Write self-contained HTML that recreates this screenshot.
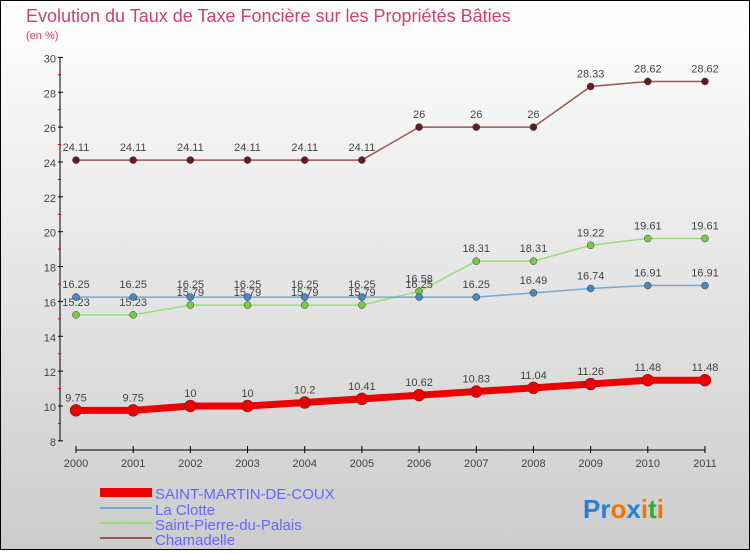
<!DOCTYPE html>
<html><head><meta charset="utf-8"><style>
body{margin:0;}
#c{width:750px;height:550px;position:relative;}
</style></head><body>
<div id="c">
<svg id="s" width="750" height="550" xmlns="http://www.w3.org/2000/svg" font-family="Liberation Sans, sans-serif">
<defs><linearGradient id="bg" x1="0" y1="0" x2="0" y2="1"><stop offset="0" stop-color="#ffffff"/><stop offset="1" stop-color="#cccccc"/></linearGradient></defs>
<rect x="0.5" y="0.5" width="749" height="549" fill="url(#bg)" stroke="#000"/>
<text x="26" y="22" font-size="18" fill="#d04070">Evolution du Taux de Taxe Foncière sur les Propriétés Bâties</text>
<text x="26" y="39" font-size="11" fill="#d04070">(en %)</text>
<g id="axes"></g><g id="series"></g>
<g>
<rect x="100" y="488" width="52" height="9" fill="#ee0000"/>
<text x="155" y="499" font-size="15" fill="#6666ff">SAINT-MARTIN-DE-COUX</text>
<rect x="100" y="507" width="52" height="2" fill="#7aa8d0"/>
<text x="155" y="515" font-size="15" fill="#6666ff">La Clotte</text>
<rect x="100" y="522" width="52" height="2" fill="#99dd77"/>
<text x="155" y="530" font-size="15" fill="#6666ff">Saint-Pierre-du-Palais</text>
<rect x="100" y="537" width="52" height="2" fill="#995555"/>
<text x="155" y="545" font-size="15" fill="#6666ff">Chamadelle</text>
</g>
<text x="583" y="518" font-size="26" font-weight="bold"><tspan fill="#2a7fcf">Pr</tspan><tspan fill="#ee7700">o</tspan><tspan fill="#2a7fcf">x</tspan><tspan fill="#ee7700">i</tspan><tspan fill="#33aa33">t</tspan><tspan fill="#ee7700">i</tspan></text>
</svg></div>
<script>
const years=["2000","2001","2002","2003","2004","2005","2006","2007","2008","2009","2010","2011"];
const yTicks=[8,10,12,14,16,18,20,22,24,26,28,30];
const stMartin=[9.75,9.75,10,10,10.2,10.41,10.62,10.83,11.04,11.26,11.48,11.48];
const laClotte=[16.25,16.25,16.25,16.25,16.25,16.25,16.25,16.25,16.49,16.74,16.91,16.91];
const stPierre=[15.23,15.23,15.79,15.79,15.79,15.79,16.58,18.31,18.31,19.22,19.61,19.61];
const chamadelle=[24.11,24.11,24.11,24.11,24.11,24.11,26,26,26,28.33,28.62,28.62];
const NS="http://www.w3.org/2000/svg";
function xS(i){return 76+i*57.18;}
function yS(v){return 406-(v-10)*17.43;}
function mk(t,a,p){const e=document.createElementNS(NS,t);for(const k in a)e.setAttribute(k,a[k]);p.appendChild(e);return e;}
const ax=document.getElementById('axes');
const yl=mk('line',{x1:60,y1:yS(30),x2:60,y2:yS(8),stroke:'#000'},ax);


const xl=mk('line',{x1:xS(0),y1:450,x2:xS(11),y2:450,stroke:'#000'},ax);


yTicks.forEach(v=>{
 mk('line',{x1:58,y1:yS(v),x2:63,y2:yS(v),stroke:'#000'},ax);
 if(v<30)mk('line',{x1:58,y1:yS(v+1),x2:61,y2:yS(v+1),stroke:'#d00'},ax);
 const t=mk('text',{x:56,y:yS(v)+5,'font-size':11,fill:'#444','text-anchor':'end'},ax);
 t.textContent=v;
 
 
});
years.forEach((y,i)=>{
 mk('line',{x1:xS(i),y1:446,x2:xS(i),y2:453,stroke:'#000'},ax);
 const t=mk('text',{x:xS(i),y:467,'font-size':11,fill:'#444','text-anchor':'middle'},ax);
 t.textContent=y;
 
 
});
const sg=document.getElementById('series');
function draw(vals,col,dot,w,r,name){
 const g=mk('g',{},sg);
 
 
 const pl=mk('polyline',{points:vals.map((v,i)=>xS(i)+','+yS(v)).join(' '),fill:'none',stroke:col,'stroke-width':w},g);
 
 
 vals.forEach((v,i)=>{
  const c=mk('circle',{cx:xS(i),cy:yS(v),r:r,fill:dot,stroke:'#333','stroke-width':0.5},g);
  
  
  const t=mk('text',{x:xS(i),y:yS(v)-9,'font-size':11,fill:'#444','text-anchor':'middle'},g);
  t.textContent=v;
  
  
 });
}
draw(chamadelle,'#995555','#661a22',1.5,3.5,'chamadelle');
draw(stPierre,'#99dd77','#77cc44',1.5,3.5,'saint-pierre');
draw(laClotte,'#7aa8d0','#4a88c0',1.5,3.5,'la-clotte');
draw(stMartin,'#ee0000','#ee0000',7,6,'saint-martin');
</script>
</body></html>
